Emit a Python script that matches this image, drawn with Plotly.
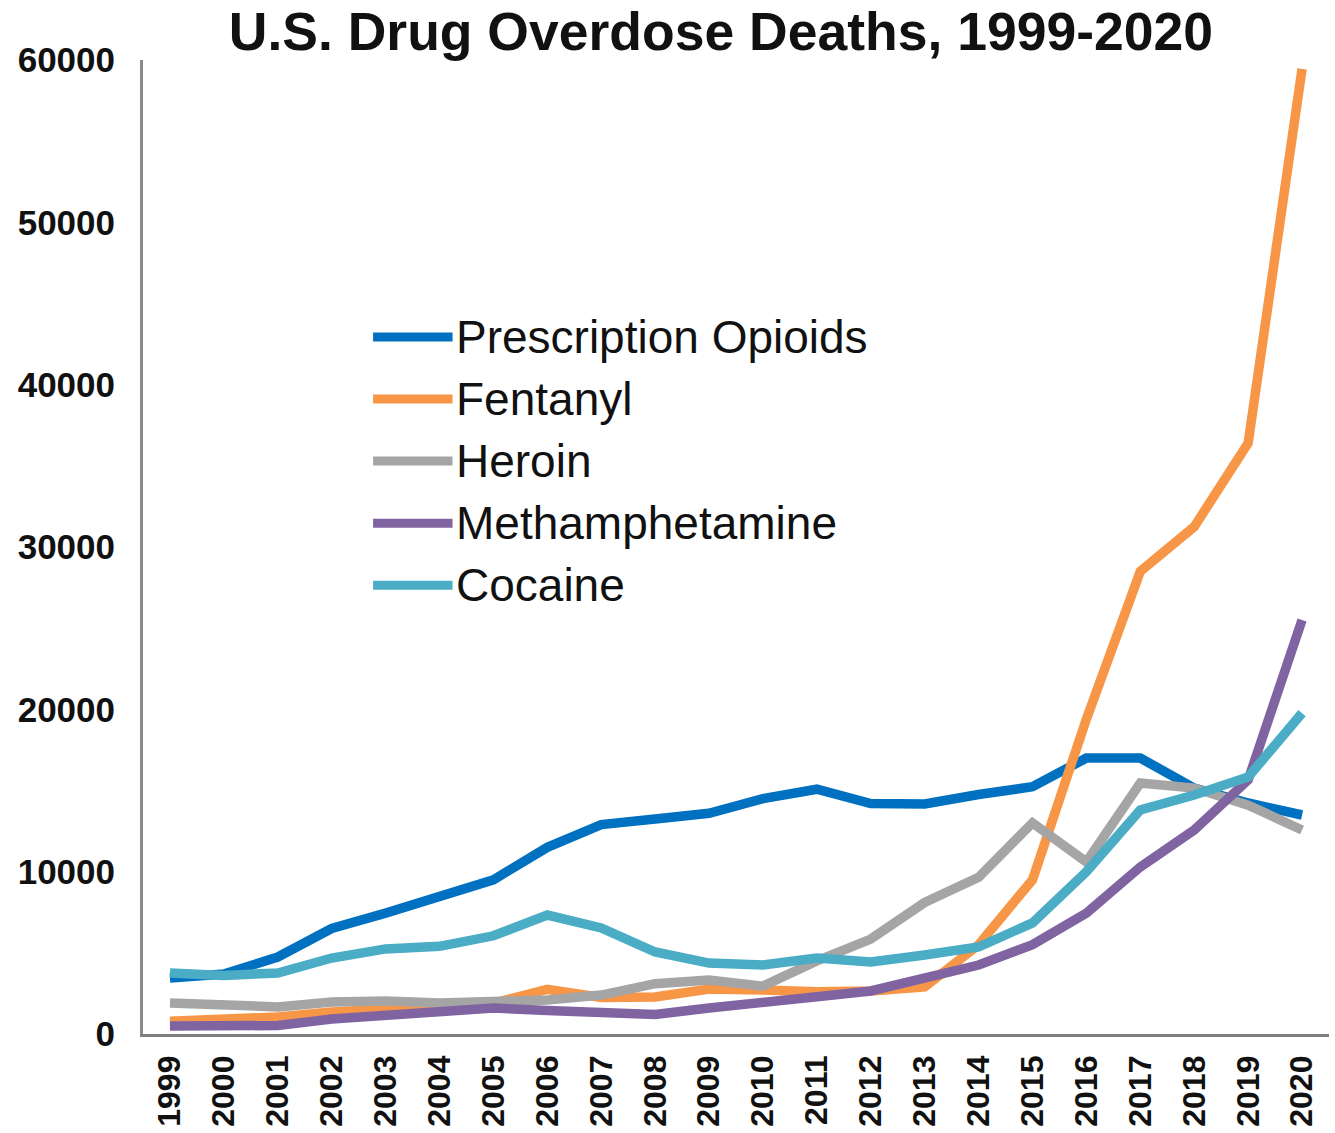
import plotly.graph_objects as go

# Overdose deaths by drug category, 1999-2020
years = [str(y) for y in range(1999, 2021)]

series_names = ["Prescription Opioids", "Fentanyl", "Heroin", "Methamphetamine", "Cocaine"]
series_colors = ["#0070C0", "#F79646", "#A5A5A5", "#8064A2", "#4BACC6"]

prescription_opioids = [3450, 3700, 4740, 6500, 7450, 8450, 9500, 11500, 12900, 13250, 13600,
                        14500, 15080, 14200, 14170, 14750, 15230, 17000, 17000, 15150, 14230, 13490]
fentanyl = [780, 880, 1050, 1350, 1550, 1750, 1900, 2750, 2250, 2280, 2770,
            2710, 2600, 2650, 2900, 5500, 9500, 19400, 28500, 31250, 36400, 59450]
heroin = [1910, 1790, 1670, 1970, 2030, 1910, 1970, 2090, 2400, 3100, 3330,
          2950, 4500, 5850, 8100, 9650, 13000, 10600, 15460, 15150, 14100, 12570]
methamphetamine = [500, 500, 520, 920, 1170, 1290, 1600, 1450, 1360, 1200, 1600,
                   1900, 2300, 2650, 3500, 4250, 5500, 7450, 10290, 12570, 15650, 25500]
cocaine = [3760, 3600, 3760, 4680, 5240, 5400, 6050, 7330, 6530, 5050, 4370,
           4250, 4680, 4440, 4870, 5360, 6840, 10000, 13800, 14720, 15830, 19770]

series_values = [prescription_opioids, fentanyl, heroin, methamphetamine, cocaine]

FONT = "Liberation Sans, Arial, sans-serif"

fig = go.Figure()
for name, color, values in zip(series_names, series_colors, series_values):
    fig.add_trace(go.Scatter(
        x=years, y=values, name=name, mode="lines",
        line=dict(color=color, width=9.5),
        showlegend=False,
    ))

# Hand-placed legend: long swatch lines with labels, stacked inside the plot
legend_x0, legend_x1, legend_text_x = 0.194, 0.261, 0.2625
legend_y0, legend_step = 0.7156, 0.0637
for i, (name, color) in enumerate(zip(series_names, series_colors)):
    yy = legend_y0 - i * legend_step
    fig.add_shape(type="line", xref="paper", yref="paper",
                  x0=legend_x0, x1=legend_x1, y0=yy, y1=yy,
                  line=dict(color=color, width=9))
    fig.add_annotation(xref="paper", yref="paper", x=legend_text_x, y=yy,
                       text=name, showarrow=False, xanchor="left", yanchor="middle",
                       font=dict(family=FONT, size=46, color="#111111"))

fig.update_layout(
    width=1335, height=1133,
    margin=dict(l=143, r=6, t=60, b=99),
    paper_bgcolor="white", plot_bgcolor="white",
    title=dict(text="<b>U.S. Drug Overdose Deaths, 1999-2020</b>",
               x=0.54, xanchor="center", y=0.972, yanchor="middle",
               font=dict(family=FONT, size=53.5, color="#111111")),
    showlegend=False,
)

fig.update_xaxes(
    type="category", range=[-0.5, 21.5], automargin=False,
    showgrid=False, zeroline=False,
    showline=True, linecolor="#7F7F7F", linewidth=2.5,
    ticks="", tickangle=-90, ticklabelstandoff=6,
    tickfont=dict(family=FONT, size=32, color="#111111", weight="bold"),
)
fig.update_yaxes(
    range=[0, 60000], tickvals=[0, 10000, 20000, 30000, 40000, 50000, 60000],
    tickformat="d", automargin=False,
    showgrid=False, zeroline=False,
    showline=True, linecolor="#8A8A8A", linewidth=3,
    ticks="", ticklabelstandoff=18,
    tickfont=dict(family=FONT, size=35, color="#111111", weight="bold"),
)

fig.write_html("out.html")
